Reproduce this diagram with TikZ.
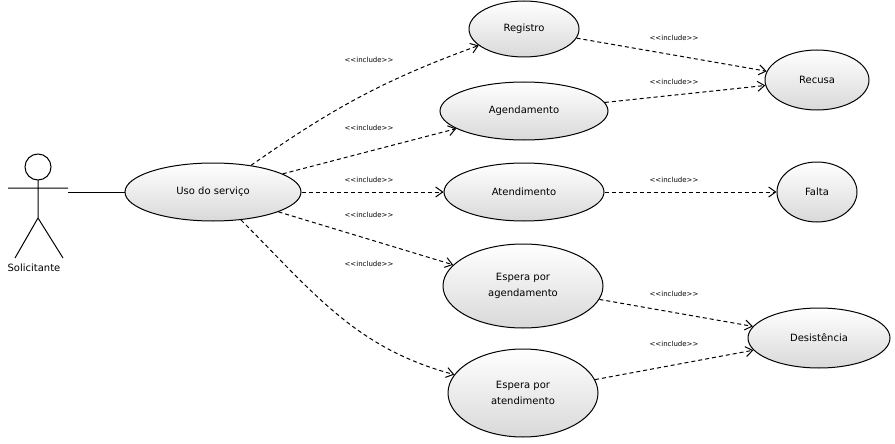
\documentclass[tikz,border=0pt]{standalone}
\usepackage{fontspec}
\setmainfont{DejaVu Sans}
\usetikzlibrary{shapes.geometric,arrows.meta}
\newcommand{\inctext}{\mbox{<}\kern0pt\mbox{<}include\mbox{>}\kern0pt\mbox{>}}
\begin{document}
\begin{tikzpicture}[x=1pt,y=-1pt,line width=1pt,
  uc/.style={ellipse,draw=black,top color=white,bottom color=black!15,inner sep=0pt,font=\fontsize{10}{12}\selectfont,align=center},
  inc/.style={draw=black,dash pattern=on 4pt off 3pt,-{Straight Barb[length=7pt,width=10pt]}},
  lab/.style={font=\fontsize{7}{8}\selectfont}]
\useasboundingbox (0,0) rectangle (895,444);
\node[uc,minimum width=110pt,minimum height=56pt] (reg) at (524,29) {Registro};
\node[uc,minimum width=168pt,minimum height=58pt] (age) at (524,111) {Agendamento};
\node[uc,minimum width=160pt,minimum height=58pt] (ate) at (524,192) {Atendimento};
\node[uc,minimum width=160pt,minimum height=84pt] (esa) at (523,286) {Espera por\\[4pt]agendamento};
\node[uc,minimum width=150pt,minimum height=88pt] (ese) at (523,393) {Espera por\\[4pt]atendimento};
\node[uc,minimum width=176pt,minimum height=58pt] (uso) at (213,192) {Uso do serviço};
\node[uc,minimum width=104pt,minimum height=60pt] (rec) at (817,80) {Recusa};
\node[uc,minimum width=80pt,minimum height=60pt] (fal) at (817,192) {Falta};
\node[uc,minimum width=142pt,minimum height=60pt] (des) at (819,338) {Desistência};
% actor
\draw[black] (38,167) circle (13);
\coordinate (neck) at (38,180);
\coordinate (hip) at (38,218);
\coordinate (la) at (8,188);
\coordinate (ra) at (68,188);
\coordinate (ll) at (15,258);
\coordinate (rl) at (63,258);
\draw (neck) -- (hip) (la) -- (ra) (hip) -- (ll) (hip) -- (rl);
\node[font=\fontsize{10}{12}\selectfont] (act) at (34,268) {Solicitante};
\coordinate (hand) at (68,192);
\draw (hand) -- (uso);
% include edges
\draw[inc] (uso) to[out=35,in=200] (reg);
\draw[inc] (uso) -- (age);
\draw[inc] (uso) -- (ate);
\draw[inc] (uso) -- (esa);
\draw[inc] (uso) to[out=-45,in=165] (ese);
\draw[inc] (reg) -- (rec);
\draw[inc] (age) -- (rec);
\draw[inc] (ate) -- (fal);
\draw[inc] (esa) -- (des);
\draw[inc] (ese) -- (des);
\foreach \y [count=\i] in {60,128,180,215,264} \node[lab] (l\i) at (369,\y) {\inctext};
\foreach \y [count=\i] in {38,82,180,294,344} \node[lab] (r\i) at (674,\y) {\inctext};
\end{tikzpicture}
\end{document}
